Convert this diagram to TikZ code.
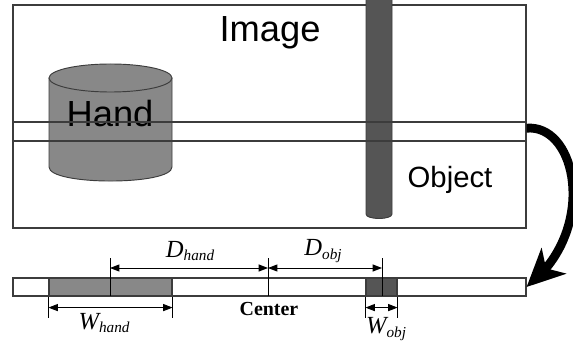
\documentclass[tikz,border=0pt]{standalone}
\usepackage{fontspec}
\setmainfont{Liberation Serif}
\newfontfamily\arialfont{Liberation Sans}
\usetikzlibrary{arrows.meta, bending, positioning, fit}
\definecolor{HandGray}{RGB}{136,136,136}
\definecolor{PoleGray}{RGB}{85,85,85}
\definecolor{EdgeGray}{RGB}{60,60,60}
\newcommand{\sublabel}[2]{{\fontsize{21}{21}\selectfont\itshape #1}\raisebox{-0.7ex}{\fontsize{13}{13}\selectfont\itshape #2}}
\tikzset{
  strip/.style={draw=EdgeGray, line width=1pt, inner sep=0pt},
  tickline/.style={line width=0.8pt},
  dimline/.style={line width=0.8pt, {Triangle[length=8pt,width=6pt]}-{Triangle[length=8pt,width=6pt]}},
  bigarrow/.style={line width=7.5pt, -{Stealth[length=32pt,width=30pt,inset=9pt,flex]}},
  sanslabel/.style={font=\arialfont\fontsize{#1}{#1}\selectfont},
}

\begin{document}
\begin{tikzpicture}[x=0.03cm, y=-0.03cm]
            \useasboundingbox (0,0) rectangle (573,347);
            % Image frame
            \draw[EdgeGray, line width=1.2pt] (13,5) rectangle (526,228);
            \node[sanslabel=31] (image) at (270,33) {Image};

            % Object pole
            \draw[EdgeGray, fill=PoleGray, line width=0.8pt] (366,-2) -- (366,214)
                .. controls (366,220) and (392,220) .. (392,214) -- (392,-2);
            \node[sanslabel=25] (object) at (450,180) {Object};

            % Hand cylinder
            \draw[EdgeGray, fill=HandGray, line width=0.8pt] (49,78) -- (49,167)
                .. controls (49,185.7) and (172,185.7) .. (172,167) -- (172,78);
            \draw[EdgeGray, fill=HandGray, line width=0.8pt] (110.5,78) ellipse [x radius=61.5, y radius=14];
            \node[sanslabel=31] (hand) at (110,114) {Hand};

            % Scan row through the image
            \node[strip, fit={(13,122) (526,141)}] (row) {};

            % Row taken out
            \node[strip, fill=white, fit={(13,278) (526,296)}] (bar) {};
            \node[strip, fill=HandGray, fit={(49,278) (172,296)}] (handseg) {};
            \node[strip, fill=PoleGray, fit={(366,278) (397,296)}] (objseg) {};

            % Distances to the center
            \foreach \name/\x in {handmid/110, center/268, objmid/382} {
                \coordinate (\name) at (\x,268);
                \draw[tickline] (\x,258) -- (\x,296);
            }
            \draw[dimline] (handmid) -- (center);
            \draw[dimline] (center) -- (objmid);
            \node (dhand) at (190,251) {\sublabel{D}{hand}};
            \node (dobj) at (323,251) {\sublabel{D}{obj}};
            \node[font=\bfseries\fontsize{17}{17}\selectfont] (centerlbl) at (269,309) {Center};

            % Widths
            \foreach \seg in {handseg, objseg} {
                \draw[tickline] (\seg.south west) -- ++(0,21);
                \draw[tickline] (\seg.south east) -- ++(0,21);
                \draw[dimline] ([yshift=-0.33cm]\seg.south west) -- ([yshift=-0.33cm]\seg.south east);
            }
            \node (whand) at (104,323) {\sublabel{W}{hand}};
            \node (wobj) at (386,329) {\sublabel{W}{obj}};

            % Row to strip
            \draw[bigarrow] ([yshift=0.1cm]row.east) .. controls (578,124) and (598,232) .. (bar.east);
        \end{tikzpicture}
\end{document}
